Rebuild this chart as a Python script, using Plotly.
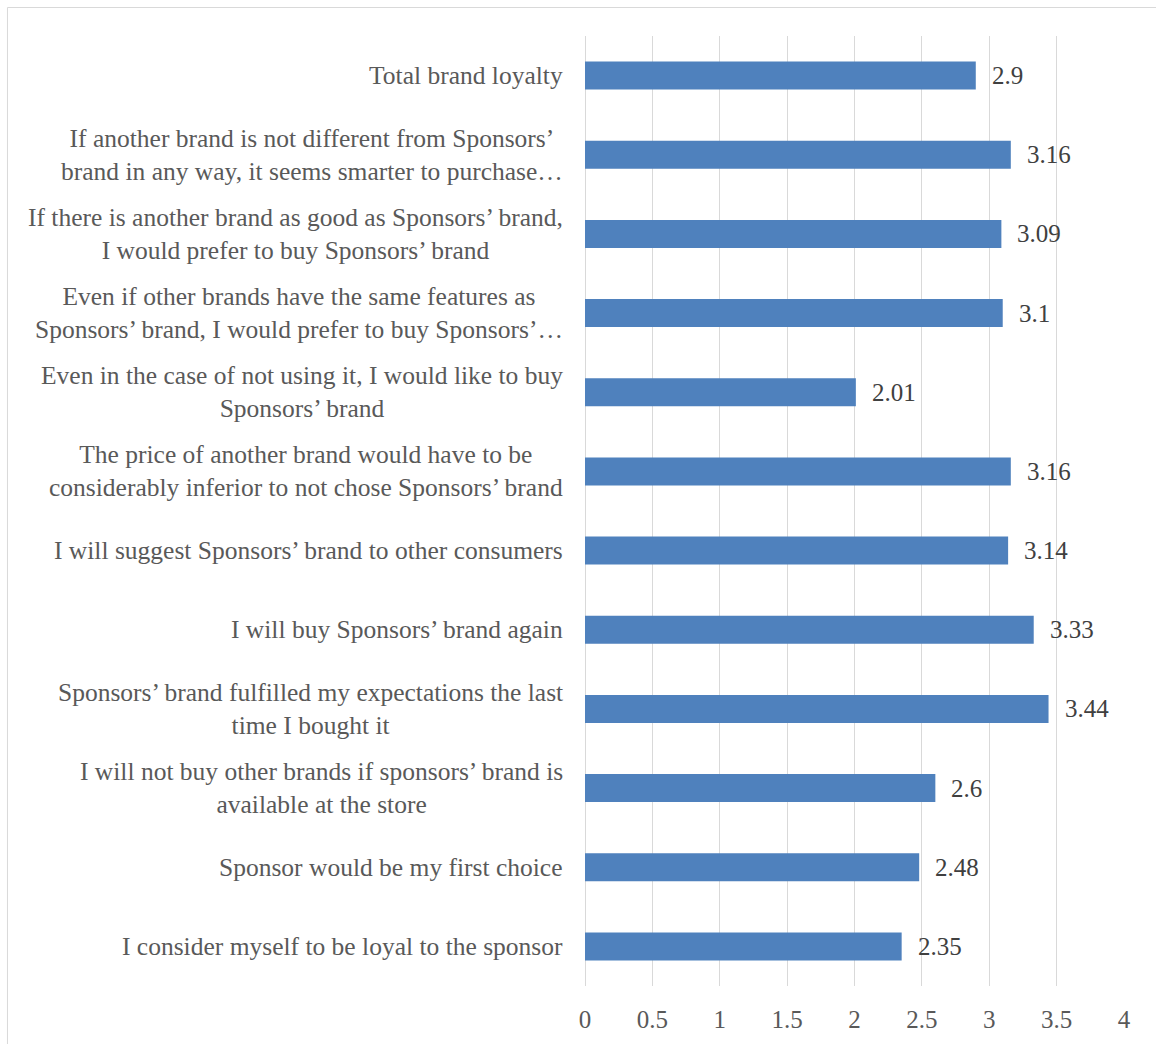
import plotly.graph_objects as go

# Survey items, listed bottom-to-top as they appear on the axis
categories = [
    "I consider myself to be loyal to the sponsor",
    "Sponsor would be my first choice",
    "I will not buy other brands if sponsors’ brand is<br>available at the store",
    "Sponsors’ brand fulfilled my expectations the last<br>time I bought it",
    "I will buy Sponsors’ brand again",
    "I will suggest Sponsors’ brand to other consumers",
    "The price of another brand would have to be<br>considerably inferior to not chose Sponsors’ brand",
    "Even in the case of not using it, I would like to buy<br>Sponsors’ brand",
    "Even if other brands have the same features as<br>Sponsors’ brand, I would prefer to buy Sponsors’…",
    "If there is another brand as good as Sponsors’ brand,<br>I would prefer to buy Sponsors’ brand",
    "If another brand is not different from Sponsors’<br>brand in any way, it seems smarter to purchase…",
    "Total brand loyalty",
]
scores = [2.35, 2.48, 2.6, 3.44, 3.33, 3.14, 3.16, 2.01, 3.1, 3.09, 3.16, 2.9]
tick_values = [0, 0.5, 1, 1.5, 2, 2.5, 3, 3.5, 4]
tick_labels = ["0", "0.5", "1", "1.5", "2", "2.5", "3", "3.5", "4"]

FONT = "Liberation Serif"
LABEL_GREY = "#595959"
VALUE_GREY = "#404040"
GRID = "#d9d9d9"

fig = go.Figure(
    go.Bar(
        x=scores,
        y=categories,
        orientation="h",
        marker=dict(color="#4f81bd", line=dict(width=0)),
        hoverinfo="x+y",
    )
)

# Category labels: centred multi-line text, right-aligned against the axis
for cat in categories:
    fig.add_annotation(
        x=0, y=cat, xref="x", yref="y",
        text=cat, showarrow=False,
        xanchor="right", yanchor="middle", align="center",
        xshift=-20,
        font=dict(family=FONT, size=25.5, color=LABEL_GREY),
    )

# Value labels just past each bar end
for cat, val in zip(categories, scores):
    fig.add_annotation(
        x=val, y=cat, xref="x", yref="y",
        text=f"{val:g}", showarrow=False,
        xanchor="left", yanchor="middle",
        xshift=14,
        font=dict(family=FONT, size=25, color=VALUE_GREY),
    )

# Outer chart frame
fig.add_shape(
    type="rect", xref="paper", yref="paper",
    x0=-1.0715, x1=1.2, y0=-0.2, y1=1.0300,
    line=dict(color=GRID, width=1), fillcolor="rgba(0,0,0,0)", layer="below",
)

fig.update_layout(
    width=1156, height=1044,
    margin=dict(l=585, r=32, t=36, b=58),
    paper_bgcolor="white", plot_bgcolor="white",
    bargap=0.646,
    showlegend=False,
    font=dict(family=FONT, size=25, color=LABEL_GREY),
    xaxis=dict(
        range=[0, 4],
        tickmode="array", tickvals=tick_values, ticktext=tick_labels,
        showgrid=True, gridcolor=GRID, gridwidth=1,
        zeroline=True, zerolinecolor=GRID, zerolinewidth=1,
        showline=False, ticks="",
        ticklabelstandoff=16,
        tickfont=dict(family=FONT, size=25, color=LABEL_GREY),
        fixedrange=True,
    ),
    yaxis=dict(
        categoryorder="array", categoryarray=categories,
        showticklabels=False, showgrid=False, zeroline=False,
        showline=False, ticks="",
        fixedrange=True,
    ),
)

fig.write_html("out.html")
